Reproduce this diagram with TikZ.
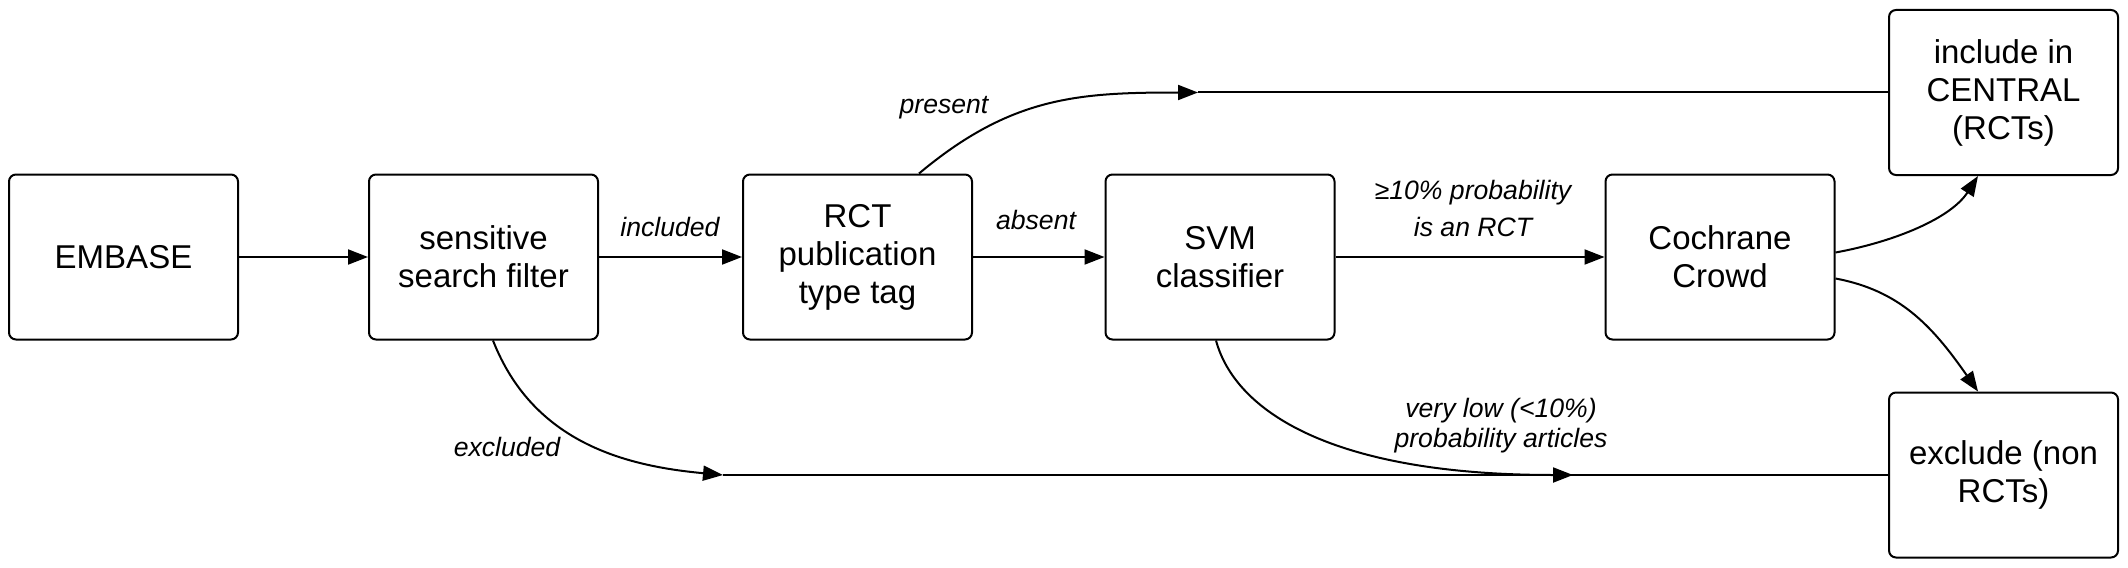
\documentclass[tikz,border=0pt]{standalone}
\usepackage{fontspec}
\setmainfont{Liberation Sans}
\usetikzlibrary{arrows.meta,positioning}

\begin{document}
\begin{tikzpicture}[x=0.5pt,y=-0.5pt,
    box/.style={draw, rounded corners=3.5pt, line width=1pt, minimum width=114.5pt, minimum height=82.5pt, align=center, font=\fontsize{16.5}{19}\selectfont},
    lbl/.style={inner sep=0pt, align=center, font=\fontsize{13.3}{18.5}\selectfont\itshape},
    flow/.style={line width=1pt, -{Triangle[length=10pt,width=7.5pt]}},
    plain/.style={line width=1pt}]

    \useasboundingbox (0,0) rectangle (2128,567);

    %% main row
    \node[box] (embase) at (123.5,257) {EMBASE};
    \node[box] (filter) at (483.5,257) {sensitive\\search filter};
    \node[box] (rct) at (857.5,257) {RCT\\publication\\type tag};
    \node[box] (svm) at (1220,257) {SVM\\classifier};
    \node[box] (crowd) at (1720,257) {Cochrane\\Crowd};

    %% outcomes
    \node[box] (include) at (2003.5,92.5) {include in\\CENTRAL\\(RCTs)};
    \node[box] (exclude) at (2003.5,475) {exclude (non\\RCTs)};

    % straight flow
    \draw[flow] (embase) -- (filter);
    \draw[flow] (filter) -- (rct);
    \draw[flow] (rct) -- (svm);
    \draw[flow] (svm) -- (crowd);

    % tag present
    \coordinate (presend) at (1198,92.5);
    \draw[flow] ([xshift=30.75pt]rct.north) .. controls +(92,-77) and +(-120,0) .. (presend);
    \draw[plain] (presend) -- (include.west);

    % excluded by filter or svm
    \coordinate (exclend) at (723,475);
    \coordinate (lowend) at (1573,475);
    \draw[flow] ([xshift=4.75pt]filter.south) .. controls +(40,102) and +(-98,-9) .. (exclend);
    \draw[plain] (exclend) -- (exclude.west);
    \draw[flow] ([xshift=-2pt]svm.south) .. controls +(19,70) and +(-243,0) .. (lowend);

    % crowd decision
    \draw[flow] ([yshift=2.25pt]crowd.east) .. controls +(60,-11) and +(-27,42) .. ([xshift=-12.75pt]include.south);
    \draw[flow] ([yshift=-10.75pt]crowd.east) .. controls +(64,12) and +(-46,-66) .. ([xshift=-12.75pt]exclude.north);

    % labels (base = last line)
    \node[lbl, anchor=base] (presentlbl) at (944,113) {present};
    \node[lbl, anchor=base] (includedlbl) at (670,236) {included};
    \node[lbl, anchor=base] (absentlbl) at (1036,229) {absent};
    \node[lbl, anchor=base] (highlbl) at (1473,236) {≥10\% probability\\is an RCT};
    \node[lbl, anchor=base, font=\fontsize{13.3}{15}\selectfont\itshape] (lowlbl) at (1501,447) {very low (<10\%)\\probability articles};
    \node[lbl, anchor=base] (excludedlbl) at (507,456) {excluded};
\end{tikzpicture}
\end{document}
